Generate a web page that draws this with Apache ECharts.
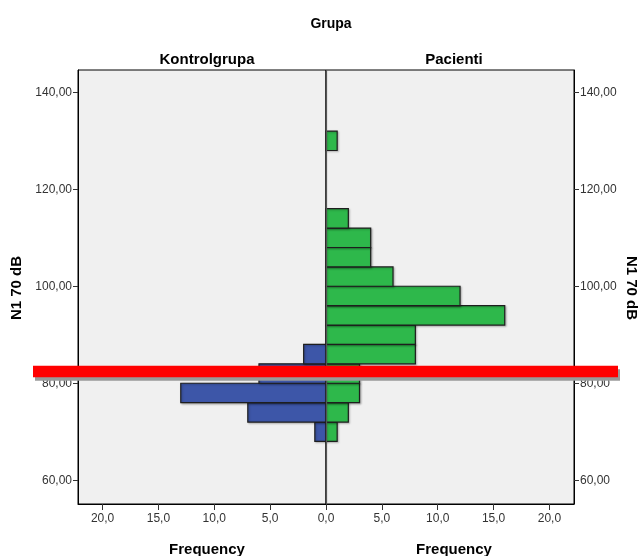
<!DOCTYPE html>
<html>
<head>
<meta charset="utf-8">
<script src="https://cdn.jsdelivr.net/npm/echarts@6/dist/echarts.min.js"></script>
<style>
html,body{margin:0;padding:0;background:#fff;}
#c{width:644px;height:556px;}
</style>
</head>
<body>
<div id="c"></div>
<script>
// ---- data ----
const binCenters = [70, 74, 78, 82, 86, 90, 94, 98, 102, 106, 110, 114, 118, 122, 126, 130];
const binWidth = 4;
const kontrolgrupa = [1, 7, 13, 6, 2, 0, 0, 0, 0, 0, 0, 0, 0, 0, 0, 0];
const pacienti = [1, 2, 3, 3, 8, 8, 16, 12, 6, 4, 4, 2, 0, 0, 0, 1];
const yTicks = [60, 80, 100, 120, 140];
const xTicksLeft = [0, 5, 10, 15, 20];
const xTicksRight = [5, 10, 15, 20];
const cutoff = 82.4;
const groupTitle = 'Grupa';
const groupNames = ['Kontrolgrupa', 'Pacienti'];
const yName = 'N1 70 dB';
const xName = 'Frequency';

const FONT = '"Liberation Sans", Arial, sans-serif';
const BLUE = '#3d56a8';
const GREEN = '#2eb84b';

const chart = echarts.init(document.getElementById('c'), null, {renderer: 'canvas'});

function renderBar(color) {
  return function (params, api) {
    const n = api.value(0), c = api.value(1);
    if (!n) return;
    const p0 = api.coord([0, c + binWidth / 2]);
    const p1 = api.coord([n, c - binWidth / 2]);
    return {
      type: 'rect',
      shape: {
        x: Math.min(p0[0], p1[0]),
        y: Math.min(p0[1], p1[1]),
        width: Math.abs(p1[0] - p0[0]),
        height: Math.abs(p1[1] - p0[1])
      },
      style: {fill: color, stroke: '#1e1e1e', lineWidth: 1.2,
        shadowColor: 'rgba(0,0,0,0.25)', shadowBlur: 2, shadowOffsetX: 1, shadowOffsetY: 1}
    };
  };
}

const fmtX = v => v.toFixed(1).replace('.', ',');
const fmtY = v => v.toFixed(2).replace('.', ',');

const yMin = 55.1, yMax = 144.6, xMax = 22.2;

const axisLabelStyle = {color: '#333', fontSize: 12, fontFamily: FONT};

const option = {
  animation: false,
  backgroundColor: '#ffffff',
  title: [
    {text: groupTitle, left: 326, top: 12, textAlign: 'center',
      textStyle: {fontSize: 14, fontWeight: 'bold', fontFamily: FONT, color: '#000'}},
    {text: groupNames[0], left: 202, top: 47, textAlign: 'center',
      textStyle: {fontSize: 15, fontWeight: 'bold', fontFamily: FONT, color: '#000'}},
    {text: groupNames[1], left: 449, top: 47, textAlign: 'center',
      textStyle: {fontSize: 15, fontWeight: 'bold', fontFamily: FONT, color: '#000'}},
    {text: xName, left: 202, top: 537, textAlign: 'center',
      textStyle: {fontSize: 15, fontWeight: 'bold', fontFamily: FONT, color: '#000'}},
    {text: xName, left: 449, top: 537, textAlign: 'center',
      textStyle: {fontSize: 15, fontWeight: 'bold', fontFamily: FONT, color: '#000'}}
  ],
  grid: [
    {left: 78, right: 318, top: 70, bottom: 52, show: true,
      backgroundColor: '#f0f0f0', borderColor: '#000', borderWidth: 1},
    {left: 326, right: 70, top: 70, bottom: 52, show: true,
      backgroundColor: '#f0f0f0', borderColor: '#000', borderWidth: 1}
  ],
  xAxis: [
    {type: 'value', gridIndex: 0, inverse: true, min: 0, max: xMax,
      splitLine: {show: false},
      axisLine: {show: true, onZero: false, lineStyle: {color: '#000'}},
      axisTick: {show: true, length: 6, customValues: xTicksLeft, lineStyle: {color: '#333'}},
      axisLabel: Object.assign({customValues: xTicksLeft, formatter: fmtX, margin: 9}, axisLabelStyle)},
    {type: 'value', gridIndex: 1, min: 0, max: xMax,
      splitLine: {show: false},
      axisLine: {show: true, onZero: false, lineStyle: {color: '#000'}},
      axisTick: {show: true, length: 6, customValues: xTicksRight, lineStyle: {color: '#333'}},
      axisLabel: Object.assign({customValues: xTicksRight, formatter: fmtX, margin: 9}, axisLabelStyle)}
  ],
  yAxis: [
    {type: 'value', gridIndex: 0, position: 'left', min: yMin, max: yMax,
      splitLine: {show: false},
      axisLine: {show: true, onZero: false, lineStyle: {color: '#000'}},
      axisTick: {show: true, length: 5, customValues: yTicks, lineStyle: {color: '#333'}},
      axisLabel: Object.assign({customValues: yTicks, formatter: fmtY, margin: 6}, axisLabelStyle)},
    {type: 'value', gridIndex: 1, position: 'right', min: yMin, max: yMax,
      splitLine: {show: false},
      axisLine: {show: true, onZero: false, lineStyle: {color: '#000'}},
      axisTick: {show: true, length: 5, customValues: yTicks, lineStyle: {color: '#333'}},
      axisLabel: Object.assign({customValues: yTicks, formatter: fmtY, margin: 6}, axisLabelStyle)}
  ],
  series: [
    {type: 'custom', name: groupNames[0], xAxisIndex: 0, yAxisIndex: 0,
      renderItem: renderBar(BLUE), encode: {x: 0, y: 1},
      data: binCenters.map((c, i) => [kontrolgrupa[i], c])},
    {type: 'custom', name: groupNames[1], xAxisIndex: 1, yAxisIndex: 1,
      renderItem: renderBar(GREEN), encode: {x: 0, y: 1},
      data: binCenters.map((c, i) => [pacienti[i], c]),
      markLine: {silent: true, symbol: 'none', label: {show: false},
        lineStyle: {color: '#555', width: 1.2, type: 'solid'},
        data: [{xAxis: 0}]}}
  ],
  graphic: [
    {type: 'text', x: 17, y: 288, rotation: Math.PI / 2,
      style: {text: yName, font: 'bold 15px ' + FONT, fill: '#000', textAlign: 'center', textVerticalAlign: 'middle'}},
    {type: 'text', x: 631, y: 288, rotation: -Math.PI / 2,
      style: {text: yName, font: 'bold 15px ' + FONT, fill: '#000', textAlign: 'center', textVerticalAlign: 'middle'}}
  ]
};

chart.setOption(option);

// reference line overlay at the cutoff value (extends beyond the plot, like the annotation)
const yc = chart.convertToPixel({yAxisIndex: 0}, cutoff);
const h = 11.5;
chart.setOption({
  graphic: option.graphic.concat([
    {type: 'rect', z: 100, shape: {x: 35, y: yc - h / 2 + 3.5, width: 585, height: h},
      style: {fill: '#9a9a9a'}},
    {type: 'rect', z: 101, shape: {x: 33, y: yc - h / 2, width: 585, height: h},
      style: {fill: '#ff0000'}}
  ])
});
</script>
</body>
</html>
